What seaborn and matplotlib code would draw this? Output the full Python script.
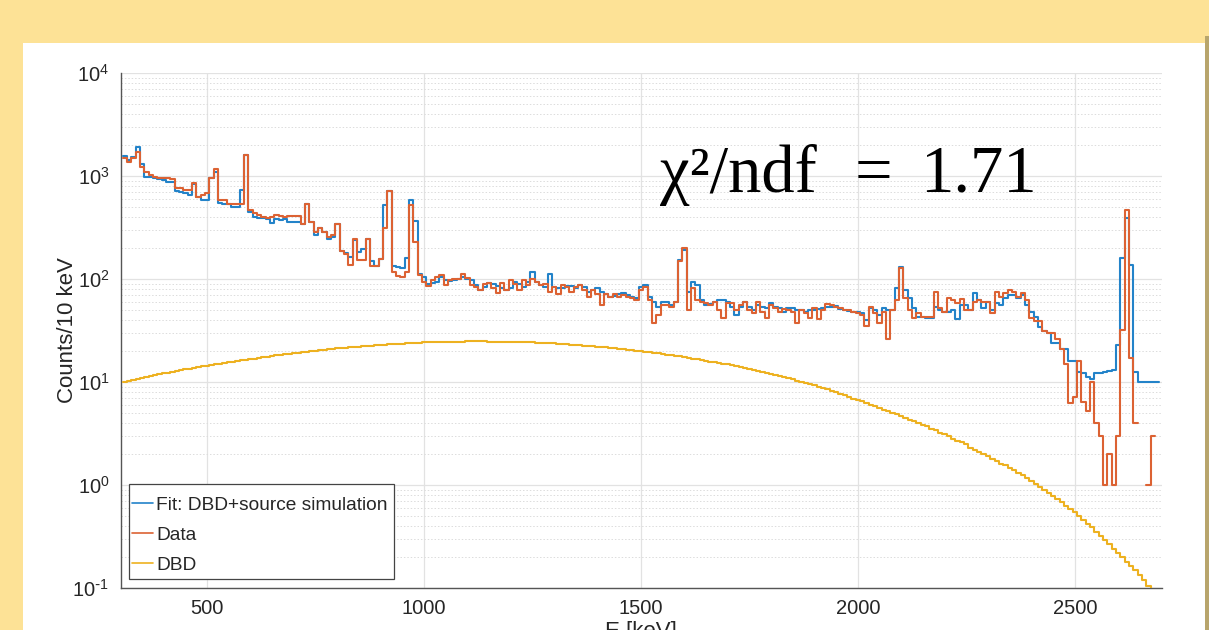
import numpy as np
import matplotlib
matplotlib.use("Agg")
import matplotlib.pyplot as plt
import seaborn as sns
from matplotlib.lines import Line2D
from matplotlib.patches import Rectangle
from matplotlib.ticker import FixedLocator, NullFormatter, FixedFormatter, LogFormatterSciNotation

# ---------------- data (counts per 10 keV bin, first bin edge 305 keV) ----------------
bin_start = 305
bin_width = 10

data_counts = [
    1500, 1380, 1500, 1720, 1230, 1100, 1020, 985, 960, 960,
    950, 930, 760, 760, 730, 730, 850, 630, 650, 680,
    950, 1160, 584, 584, 540, 540, 530, 540, 1600, 466,
    440, 420, 400, 395, 400, 417, 410, 400, 410, 405,
    405, 345, 540, 360, 287, 316, 287, 257, 265, 340,
    187, 176, 136, 247, 152, 152, 242, 133, 133, 157,
    310, 720, 117, 108, 105, 117, 522, 230, 109, 94,
    85, 97, 105, 109, 87, 97, 99, 101, 113, 103,
    87, 84, 78, 90, 92, 81, 73, 92, 78, 97,
    90, 78, 97, 87, 101, 94, 87, 90, 75, 84,
    72, 87, 84, 75, 84, 87, 78, 67, 78, 72,
    56, 72, 67, 72, 67, 70, 67, 65, 63, 78,
    83, 63, 37, 45, 56, 56, 54, 60, 148, 199,
    50, 81, 63, 60, 58, 56, 60, 50, 42, 58,
    58, 50, 56, 60, 50, 47, 60, 48, 42, 56,
    52, 48, 51, 50, 48, 37, 50, 47, 42, 52,
    41, 50, 57, 56, 54, 52, 50, 50, 48, 47,
    45, 35, 54, 47, 37, 48, 26, 50, 63, 127,
    65, 50, 42, 47, 43, 43, 43, 75, 52, 48,
    65, 63, 58, 64, 50, 50, 60, 63, 60, 60,
    47, 75, 67, 73, 78, 75, 67, 73, 63, 42,
    39, 39, 31, 30, 30, 26, 21, 15, 6.2, 7.2,
    16, 6.4, 5.2, 10, 4.0, 3.0, 1, 2, 1, 3,
    32, 466, 17, 4.0, np.nan, np.nan, 1, 3, np.nan,
]

fit_counts = [
    1550, 1430, 1520, 1900, 1300, 985, 970, 950, 935, 920,
    880, 870, 714, 700, 680, 650, 835, 630, 590, 590,
    950, 1100, 550, 540, 530, 500, 500, 730, 1600, 450,
    400, 390, 390, 380, 350, 380, 375, 385, 360, 355,
    360, 340, 530, 360, 265, 310, 287, 247, 257, 340,
    187, 178, 164, 240, 183, 197, 242, 149, 135, 155,
    522, 720, 133, 130, 128, 161, 590, 367, 113, 105,
    90, 92, 94, 105, 97, 96, 97, 101, 105, 101,
    97, 87, 79, 84, 92, 89, 85, 81, 78, 81,
    94, 90, 84, 94, 117, 94, 87, 84, 113, 84,
    81, 81, 85, 85, 81, 87, 84, 75, 78, 81,
    75, 72, 67, 69, 72, 73, 70, 67, 65, 83,
    88, 67, 60, 54, 60, 60, 56, 60, 153, 191,
    75, 94, 88, 63, 56, 57, 60, 63, 63, 60,
    54, 45, 54, 60, 54, 50, 56, 54, 52, 58,
    54, 52, 48, 52, 52, 50, 50, 48, 50, 50,
    51, 52, 53, 54, 55, 51, 50, 49, 48, 48,
    47, 40, 52, 50, 45, 52, 50, 50, 81, 132,
    78, 65, 52, 43, 43, 42, 42, 54, 50, 48,
    48, 50, 41, 56, 56, 50, 73, 63, 52, 60,
    50, 58, 56, 65, 70, 70, 65, 70, 56, 48,
    43, 34, 31, 30, 24, 24, 21, 21, 16, 16,
    12.6, 12.1, 11.3, 10.8, 12.1, 12.2, 12.6, 12.8, 13, 23,
    159, 390, 137, 12.6, 10.1, 10.1, 10.1, 10.1, 10.1,
]

dbd_counts = [
    10.0, 10.2, 10.5, 10.7, 10.9, 11.2, 11.4, 11.6, 11.9, 12.1,
    12.3, 12.6, 12.8, 13.0, 13.3, 13.5, 13.7, 13.9, 14.2, 14.4,
    14.6, 14.9, 15.1, 15.3, 15.6, 15.8, 16.0, 16.2, 16.5, 16.7,
    16.9, 17.2, 17.4, 17.6, 17.9, 18.1, 18.3, 18.5, 18.8, 19.0,
    19.2, 19.4, 19.7, 19.9, 20.1, 20.3, 20.5, 20.8, 21.0, 21.2,
    21.4, 21.6, 21.7, 21.9, 22.1, 22.3, 22.5, 22.6, 22.8, 23.0,
    23.1, 23.2, 23.4, 23.5, 23.6, 23.7, 23.8, 24.0, 24.1, 24.2,
    24.3, 24.3, 24.4, 24.5, 24.5, 24.6, 24.6, 24.7, 24.7, 24.8,
    24.8, 24.8, 24.8, 24.8, 24.7, 24.7, 24.7, 24.7, 24.6, 24.6,
    24.5, 24.4, 24.3, 24.2, 24.2, 24.1, 24.0, 23.9, 23.8, 23.7,
    23.6, 23.4, 23.2, 23.1, 22.9, 22.8, 22.6, 22.4, 22.3, 22.1,
    21.9, 21.7, 21.5, 21.3, 21.1, 20.9, 20.6, 20.4, 20.2, 20.0,
    19.7, 19.5, 19.2, 19.0, 18.7, 18.4, 18.2, 17.9, 17.7, 17.4,
    17.1, 16.9, 16.6, 16.3, 16.1, 15.8, 15.6, 15.3, 15.0, 14.8,
    14.5, 14.2, 13.9, 13.6, 13.4, 13.1, 12.8, 12.5, 12.3, 12.0,
    11.7, 11.4, 11.2, 10.9, 10.6, 10.3, 10.1, 9.8, 9.6, 9.3,
    9.0, 8.8, 8.5, 8.2, 8.0, 7.7, 7.5, 7.2, 6.9, 6.7,
    6.5, 6.3, 6.0, 5.8, 5.6, 5.4, 5.2, 5.0, 4.9, 4.7,
    4.5, 4.3, 4.2, 4.0, 3.8, 3.7, 3.5, 3.4, 3.2, 3.1,
    3.0, 2.8, 2.7, 2.6, 2.5, 2.3, 2.2, 2.1, 2.0, 1.9,
    1.8, 1.7, 1.6, 1.55, 1.47, 1.39, 1.32, 1.25, 1.17, 1.1,
    1.03, 0.96, 0.90, 0.84, 0.78, 0.73, 0.68, 0.63, 0.59, 0.55,
    0.50, 0.46, 0.42, 0.39, 0.35, 0.32, 0.29, 0.27, 0.24, 0.22,
    0.20, 0.18, 0.165, 0.15, 0.135, 0.12, 0.105, 0.095, 0.085,
]

series_labels = ["Fit: DBD+source simulation", "Data", "DBD"]
x_ticks = [500, 1000, 1500, 2000, 2500]
y_decades = [1e-1, 1e0, 1e1, 1e2, 1e3, 1e4]
y_exponents = ["-1", "0", "1", "2", "3", "4"]
annotation_parts = ["\u03c7\u00b2/ndf", "=", "1.71"]

# ---------------- style ----------------
sns.set_theme(style="white")
plt.rcParams['font.family'] = ['Liberation Sans', 'DejaVu Sans']
plt.rcParams['axes.unicode_minus'] = False

C_FIT = '#2383c9'
C_DATA = '#dc6233'
C_DBD = '#EDB120'
TXT = '#262626'

fig = plt.figure(figsize=(12.09, 6.30), dpi=100)
fig.patch.set_facecolor('#FDE296')
fig.patches.append(Rectangle((23 / 1209, 0), (1205 - 23) / 1209, 1 - 43 / 630,
                             transform=fig.transFigure, facecolor='white',
                             edgecolor='none', zorder=-10))
fig.patches.append(Rectangle((1205 / 1209, 0), 4 / 1209, 1 - 36 / 630,
                             transform=fig.transFigure, facecolor='#B8A56C',
                             edgecolor='none', zorder=-10))

ax = fig.add_axes([120.5 / 1209, 1 - 588 / 630, (1161.5 - 120.5) / 1209, (588 - 73) / 630])
ax.set_zorder(1)
ax.set_facecolor('white')


def draw_steps(values, color, zorder):
    vals = np.asarray(values, dtype=float)
    edges = bin_start + bin_width * np.arange(len(vals) + 1)
    valid = ~np.isnan(vals)
    i = 0
    n = len(vals)
    while i < n:
        if not valid[i]:
            i += 1
            continue
        j = i
        while j + 1 < n and valid[j + 1]:
            j += 1
        xs = edges[i:j + 2]
        ys = np.append(vals[i:j + 1], vals[j])
        sns.lineplot(x=xs, y=ys, ax=ax, drawstyle='steps-post', color=color,
                     linewidth=1.5, estimator=None, sort=False, legend=False,
                     zorder=zorder)
        i = j + 1


draw_steps(fit_counts, C_FIT, 3)
draw_steps(data_counts, C_DATA, 4)
draw_steps(dbd_counts, C_DBD, 3)

ax.set_yscale('log')
ax.set_xlim(300, 2700)
ax.set_ylim(1e-1, 1e4)

ax.xaxis.set_major_locator(FixedLocator(x_ticks))
ax.yaxis.set_major_locator(FixedLocator(y_decades))
minors = [m * d for d in y_decades[:-1] for m in range(2, 10)]
ax.yaxis.set_minor_locator(FixedLocator(minors))
ax.yaxis.set_minor_formatter(NullFormatter())

ax.grid(True, which='major', axis='both', color='#e2e2e2', linewidth=0.9, linestyle='-', zorder=0)
ax.grid(True, which='minor', axis='y', color='#dcdcdc', linewidth=0.7, linestyle=(0, (1.5, 2.0)), zorder=0)
ax.set_axisbelow(True)

for side in ['top', 'right']:
    ax.spines[side].set_visible(False)
for side in ['left', 'bottom']:
    ax.spines[side].set_color('#555555')
    ax.spines[side].set_linewidth(1.0)

ax.tick_params(axis='both', which='major', direction='in', length=7, width=0.9,
               color='#555555', labelcolor=TXT, labelsize=14.5, pad=8)
ax.tick_params(axis='y', which='minor', length=0)

# y tick labels with a plain hyphen in the exponent (as in the reference)
hyphen_labels = [r'$\mathdefault{10^{' + (r'\text{-}1' if e == "-1" else e) + '}}$'
                 for e in y_exponents]
ax.yaxis.set_major_formatter(FixedFormatter(hyphen_labels))
try:
    fig.canvas.draw()
except Exception:
    ax.yaxis.set_major_formatter(LogFormatterSciNotation())

ax.set_ylabel('Counts/10 keV', fontsize=16, color=TXT, labelpad=-4)
ax.set_xlabel('E [keV]', fontsize=16, color=TXT, labelpad=2)

serif = ['Liberation Serif', 'DejaVu Serif']
ax.text(1543.5, 700, annotation_parts[0], fontsize=48, family=serif,
        color='black', va='baseline', ha='left', zorder=6)
ax.text(1993, 700, annotation_parts[1], fontsize=48, family=serif,
        color='black', va='baseline', ha='left', zorder=6)
ax.text(2143, 700, annotation_parts[2], fontsize=48, family=serif,
        color='black', va='baseline', ha='left', zorder=6)

# legend frame drawn as its own box, entries placed inside it
ax.add_patch(Rectangle((8.5 / 1041, 9 / 515), 265 / 1041, 95 / 515, transform=ax.transAxes,
                       facecolor='white', edgecolor='#444444', linewidth=0.9, zorder=6))
handles = [Line2D([0], [0], color=c, linewidth=1.2) for c in (C_FIT, C_DATA, C_DBD)]
leg = ax.legend(handles, series_labels, loc='lower left', bbox_to_anchor=(11.5 / 1041, 14 / 515),
                fontsize=13.8, frameon=False, handlelength=1.1, handletextpad=0.15,
                labelspacing=0.66, borderpad=0.0, borderaxespad=0)
for t in leg.get_texts():
    t.set_color(TXT)
leg.set_zorder(7)

fig.savefig('out.png', dpi=100, facecolor=fig.get_facecolor())
